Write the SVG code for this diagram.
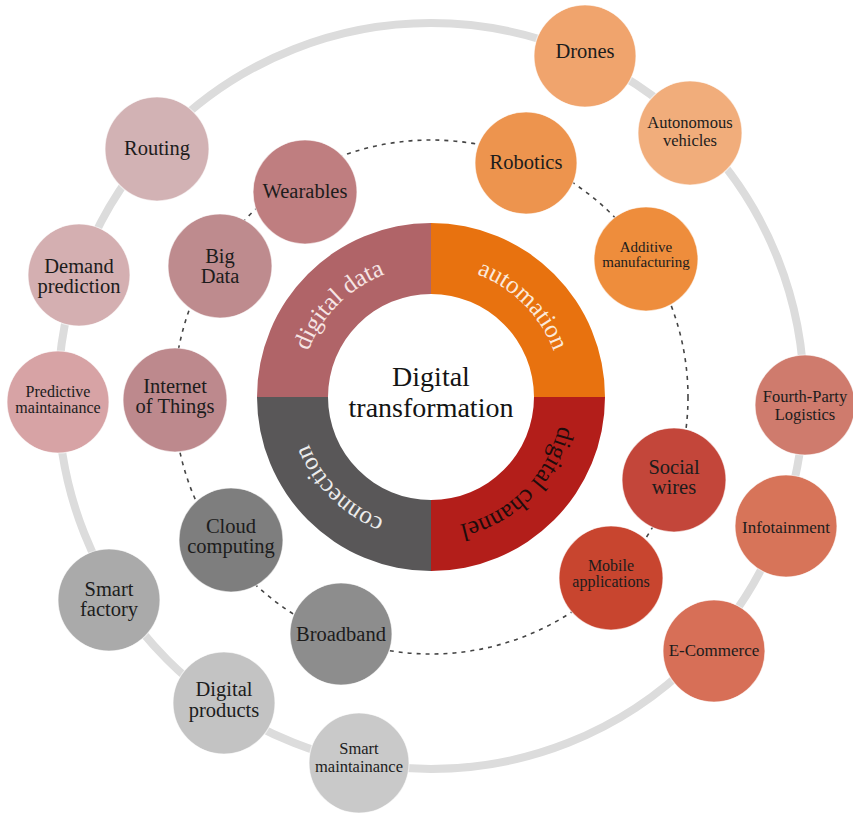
<svg xmlns="http://www.w3.org/2000/svg" width="853" height="815" viewBox="0 0 853 815">
<defs>
<style>
.n circle{stroke:#ffffff;stroke-width:1.2;stroke-opacity:0.6}
.n text{font-family:"Liberation Serif","Times New Roman",serif;fill:#1c1c1c;text-anchor:middle}
.l{font-size:20.5px}
.s{font-size:17px}
.t{font-size:16.5px}
.m{font-size:16px}
.xs{font-size:15px}
.ring{font-family:"Liberation Serif","Times New Roman",serif;font-size:25px;text-anchor:middle}
</style>
<path id="pDD" d="M300,397 A131,131 0 0 1 431,266"/>
<path id="pAU" d="M431,266 A131,131 0 0 1 562,397"/>
<path id="pDC" d="M562,397 A131,131 0 0 1 431,528"/>
<path id="pCO" d="M431,528 A131,131 0 0 1 300,397"/>
</defs>
<rect width="853" height="815" fill="#ffffff"/>
<g id="connectors">
<circle cx="431" cy="396" r="373" fill="none" stroke="#dcdcdc" stroke-width="8"/>
<circle cx="431" cy="397" r="257" fill="none" stroke="#444444" stroke-width="1.6" stroke-dasharray="4 5"/>
</g>
<g id="core">
<path d="M257,397 A174,174 0 0 1 431,223 L431,294 A103,103 0 0 0 328,397 Z" fill="#b06468"/>
<path d="M431,223 A174,174 0 0 1 605,397 L534,397 A103,103 0 0 0 431,294 Z" fill="#e8720f"/>
<path d="M605,397 A174,174 0 0 1 431,571 L431,500 A103,103 0 0 0 534,397 Z" fill="#b31e1a"/>
<path d="M431,571 A174,174 0 0 1 257,397 L328,397 A103,103 0 0 0 431,500 Z" fill="#595758"/>
<text class="ring" fill="#f6e4e4"><textPath href="#pDD" startOffset="50%">digital data</textPath></text>
<text class="ring" fill="#fbe9da"><textPath href="#pAU" startOffset="50%">automation</textPath></text>
<text class="ring" fill="#1e0c0c"><textPath href="#pDC" startOffset="50%">digital channel</textPath></text>
<text class="ring" fill="#ececec"><textPath href="#pCO" startOffset="50%">connection</textPath></text>
<text font-family="Liberation Serif, Times New Roman, serif" font-size="28" fill="#141414" text-anchor="middle"><tspan x="431" y="386">Digital</tspan><tspan x="431" y="417">transformation</tspan></text>
</g>
<g id="routing" class="n"><circle cx="157" cy="149" r="52" fill="#d2b2b4"/><text class="l" x="157" y="155">Routing</text></g>
<g id="demand-prediction" class="n"><circle cx="79" cy="275" r="51" fill="#d4afb1"/><text class="l"><tspan x="79" y="273">Demand</tspan><tspan x="79" y="293">prediction</tspan></text></g>
<g id="predictive-maintainance" class="n"><circle cx="58" cy="402" r="51" fill="#d7a3a5"/><text class="m"><tspan x="58" y="397">Predictive</tspan><tspan x="58" y="413">maintainance</tspan></text></g>
<g id="smart-factory" class="n"><circle cx="109" cy="600" r="51" fill="#aaaaaa"/><text class="l"><tspan x="109" y="596">Smart</tspan><tspan x="109" y="616">factory</tspan></text></g>
<g id="digital-products" class="n"><circle cx="224" cy="703" r="51" fill="#c3c3c3"/><text class="l"><tspan x="224" y="696">Digital</tspan><tspan x="224" y="717">products</tspan></text></g>
<g id="smart-maintainance" class="n"><circle cx="359" cy="763" r="50" fill="#c9c9c9"/><text class="t"><tspan x="359" y="754">Smart</tspan><tspan x="359" y="772">maintainance</tspan></text></g>
<g id="e-commerce" class="n"><circle cx="714" cy="651" r="51" fill="#d76f57"/><text class="s" x="714" y="656">E-Commerce</text></g>
<g id="infotainment" class="n"><circle cx="786" cy="526" r="51" fill="#d77459"/><text class="s" x="786" y="533">Infotainment</text></g>
<g id="fourth-party-logistics" class="n"><circle cx="805" cy="405" r="50" fill="#cf7b6d"/><text class="t"><tspan x="805" y="402">Fourth-Party</tspan><tspan x="805" y="420">Logistics</tspan></text></g>
<g id="autonomous-vehicles" class="n"><circle cx="690" cy="133" r="52" fill="#f1ad7b"/><text class="t"><tspan x="690" y="128">Autonomous</tspan><tspan x="690" y="146">vehicles</tspan></text></g>
<g id="drones" class="n"><circle cx="585" cy="56" r="51" fill="#f0a46d"/><text class="l" x="585" y="58">Drones</text></g>
<g id="wearables" class="n"><circle cx="305" cy="192" r="52" fill="#bf7e80"/><text class="l" x="305" y="198">Wearables</text></g>
<g id="big-data" class="n"><circle cx="220" cy="266" r="52" fill="#be8b8e"/><text class="l"><tspan x="220" y="263">Big</tspan><tspan x="220" y="283">Data</tspan></text></g>
<g id="internet-of-things" class="n"><circle cx="175" cy="400" r="52" fill="#bd898d"/><text class="l"><tspan x="175" y="393">Internet</tspan><tspan x="175" y="413">of Things</tspan></text></g>
<g id="cloud-computing" class="n"><circle cx="231" cy="540" r="52" fill="#7e7e7e"/><text class="l"><tspan x="231" y="533">Cloud</tspan><tspan x="231" y="553">computing</tspan></text></g>
<g id="broadband" class="n"><circle cx="341" cy="634" r="51" fill="#8d8d8d"/><text class="l" x="341" y="641">Broadband</text></g>
<g id="mobile-applications" class="n"><circle cx="611" cy="578" r="52" fill="#c8452f"/><text class="m"><tspan x="611" y="571">Mobile</tspan><tspan x="611" y="587">applications</tspan></text></g>
<g id="social-wires" class="n"><circle cx="674" cy="480" r="52" fill="#c3463a"/><text class="l"><tspan x="674" y="474">Social</tspan><tspan x="674" y="494">wires</tspan></text></g>
<g id="additive-manufacturing" class="n"><circle cx="646" cy="259" r="52" fill="#ee8d3c"/><text class="xs"><tspan x="646" y="252">Additive</tspan><tspan x="646" y="267">manufacturing</tspan></text></g>
<g id="robotics" class="n"><circle cx="526" cy="163" r="51" fill="#ed944e"/><text class="l" x="526" y="169">Robotics</text></g>
</svg>
